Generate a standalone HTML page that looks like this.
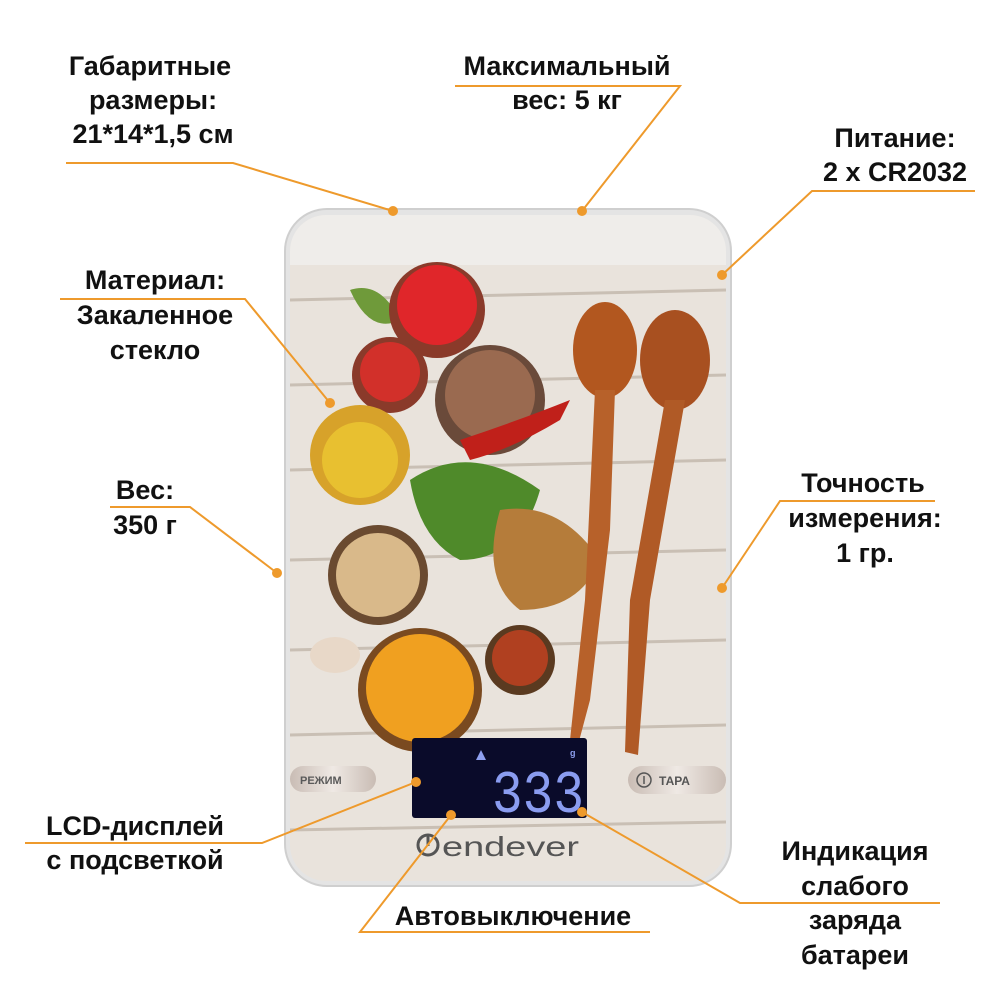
<!DOCTYPE html>
<html><head><meta charset="utf-8"><style>
body{margin:0;background:#fff;}
svg{display:block;}
text{font-family:"Liberation Sans",sans-serif;font-weight:bold;fill:#111;}
</style></head><body>
<svg width="1000" height="1000" viewBox="0 0 1000 1000" xmlns="http://www.w3.org/2000/svg">
<defs>
<clipPath id="c"><rect x="290" y="215" width="436" height="666" rx="36"/></clipPath>
<linearGradient id="btn" x1="0" x2="1"><stop offset="0" stop-color="#c9bcb4"/><stop offset="0.5" stop-color="#efe9e4"/><stop offset="1" stop-color="#c9bcb4"/></linearGradient>
</defs>
<rect x="285" y="209" width="446" height="677" rx="42" fill="#e4e4e4" stroke="#cfcfcf" stroke-width="2"/>
<g clip-path="url(#c)">
<rect x="290" y="215" width="436" height="666" fill="#e9e3dc"/>
<g stroke="#c9bfb4" stroke-width="3">
<line x1="290" y1="300" x2="726" y2="290"/><line x1="290" y1="385" x2="726" y2="375"/>
<line x1="290" y1="470" x2="726" y2="460"/><line x1="290" y1="560" x2="726" y2="550"/>
<line x1="290" y1="650" x2="726" y2="640"/><line x1="290" y1="735" x2="726" y2="725"/>
<line x1="290" y1="830" x2="726" y2="822"/></g>
<rect x="290" y="215" width="436" height="50" fill="#f0efee" opacity="0.8"/>
<path d="M350 290 Q380 280 400 320 Q370 335 350 290Z" fill="#6f9a3a"/>
<circle cx="437" cy="310" r="48" fill="#8a3a2a"/><circle cx="437" cy="305" r="40" fill="#e0262a"/>
<circle cx="390" cy="375" r="38" fill="#8a3a2a"/><circle cx="390" cy="372" r="30" fill="#d2302a"/>
<circle cx="490" cy="400" r="55" fill="#6a4a3a"/><circle cx="490" cy="395" r="45" fill="#9a6a50"/>
<path d="M460 440 Q520 420 570 400 L560 420 Q510 450 470 460Z" fill="#c0201a"/>
<circle cx="360" cy="455" r="50" fill="#d7a22a"/><circle cx="360" cy="460" r="38" fill="#e8c030"/>
<path d="M410 480 Q470 440 540 490 Q520 560 460 560 Q420 540 410 480Z" fill="#4f8a2a"/>
<path d="M500 510 Q560 500 600 560 Q580 610 520 610 Q480 580 500 510Z" fill="#b57c3a"/>
<circle cx="378" cy="575" r="50" fill="#6a4a30"/><circle cx="378" cy="575" r="42" fill="#d9b98a"/>
<circle cx="420" cy="690" r="62" fill="#7a4a20"/><circle cx="420" cy="688" r="54" fill="#f0a020"/>
<circle cx="520" cy="660" r="35" fill="#5a3a20"/><circle cx="520" cy="658" r="28" fill="#b04020"/>
<ellipse cx="335" cy="655" rx="25" ry="18" fill="#e8d8c8"/>
<ellipse cx="605" cy="350" rx="32" ry="48" fill="#b2571f"/>
<path d="M595 390 L615 390 L610 530 L590 700 L578 745 L570 740 L585 600 Z" fill="#b7612a"/>
<ellipse cx="675" cy="360" rx="35" ry="50" fill="#a85020"/>
<path d="M665 400 L685 400 L650 600 L638 755 L625 752 L630 600 Z" fill="#b05a26"/>
<rect x="290" y="766" width="86" height="26" rx="13" fill="url(#btn)"/>
<text x="300" y="784" font-size="11" style="fill:#5a5a5a">РЕЖИМ</text>
<rect x="628" y="766" width="98" height="28" rx="14" fill="url(#btn)"/>
<circle cx="644" cy="780" r="7" fill="none" stroke="#555" stroke-width="1.5"/><line x1="644" y1="776" x2="644" y2="784" stroke="#555" stroke-width="1.5"/>
<text x="659" y="785" font-size="12" style="fill:#555">ТАРА</text>
</g>
<rect x="412" y="738" width="175" height="80" rx="3" fill="#0a0b2a"/>
<text x="570" y="756" font-size="9" style="fill:#8ea0f0">g</text>
<path d="M476 760 L481 750 L486 760Z" fill="#8ea0f0"/>
<text x="492" y="812" font-size="60" style="fill:#8a9cf0;font-family:'Liberation Mono',monospace;font-weight:normal" textLength="92" lengthAdjust="spacingAndGlyphs">333</text>
<circle cx="428" cy="845" r="10" fill="none" stroke="#555" stroke-width="3"/><line x1="428" y1="836" x2="428" y2="846" stroke="#555" stroke-width="3"/>
<text x="442" y="856" font-size="28" style="fill:#555;font-weight:normal" textLength="137" lengthAdjust="spacingAndGlyphs">endever</text>
<g stroke="#ee9a2c" stroke-width="2" fill="none">
<polyline points="66,163 233,163 393,211"/>
<polyline points="455,86 680,86 582,211"/>
<polyline points="975,191 812,191 722,275"/>
<polyline points="60,299 245,299 330,403"/>
<polyline points="110,507 190,507 277,573"/>
<polyline points="935,501 780,501 722,588"/>
<polyline points="25,843 262,843 416,782"/>
<polyline points="650,932 360,932 451,815"/>
<polyline points="940,903 740,903 582,812"/>
</g>
<g fill="#ee9a2c">
<circle cx="393" cy="211" r="5"/><circle cx="582" cy="211" r="5"/><circle cx="722" cy="275" r="5"/>
<circle cx="330" cy="403" r="5"/><circle cx="277" cy="573" r="5"/><circle cx="722" cy="588" r="5"/>
<circle cx="416" cy="782" r="5"/><circle cx="451" cy="815" r="5"/><circle cx="582" cy="812" r="5"/>
</g>
<g font-size="27" text-anchor="middle">
<text x="150" y="75">Габаритные</text><text x="153" y="109">размеры:</text><text x="153" y="143">21*14*1,5 см</text>
<text x="567" y="75">Максимальный</text><text x="567" y="109">вес: 5 кг</text>
<text x="895" y="147">Питание:</text><text x="895" y="181">2 x CR2032</text>
<text x="155" y="289">Материал:</text><text x="155" y="324">Закаленное</text><text x="155" y="359">стекло</text>
<text x="145" y="499">Вес:</text><text x="145" y="534">350 г</text>
<text x="863" y="492">Точность</text><text x="865" y="527">измерения:</text><text x="865" y="562">1 гр.</text>
<text x="135" y="835">LCD-дисплей</text><text x="135" y="869">с подсветкой</text>
<text x="513" y="925">Автовыключение</text>
<text x="855" y="860">Индикация</text><text x="855" y="895">слабого</text><text x="855" y="929">заряда</text><text x="855" y="964">батареи</text>
</g>
</svg>
</body></html>
